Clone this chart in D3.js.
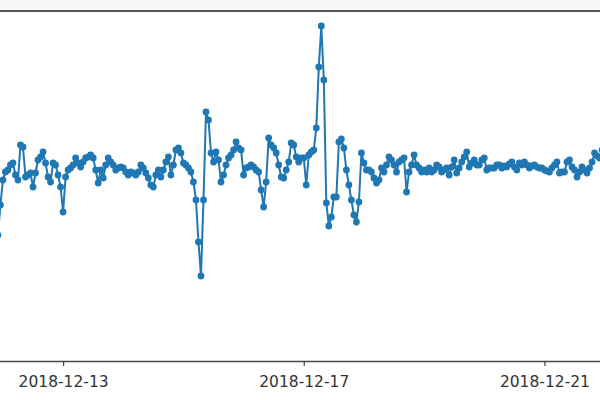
<!DOCTYPE html>
<html>
<head>
<meta charset="utf-8">
<script src="https://cdn.jsdelivr.net/npm/d3@7"></script>
<style>
  body { margin: 0; background: #fff; }
  .graphic svg { display: block; }
</style>
</head>
<body>
<div class="graphic"></div>
<script>
// hourly readings, first one at 2018-12-11 22:00
var startTime = new Date(2018, 11, 11, 22, 0);
var values = [
  126, 156, 181, 189, 191, 196, 198, 186, 181, 216, 214, 184, 186, 188, 174, 188,
  201, 204, 209, 198, 184, 179, 198, 196, 186, 174, 149, 184, 191, 193, 196, 203,
  198, 194, 199, 203, 204, 206, 203, 191, 178, 191, 183, 196, 203, 199, 196, 191,
  193, 194, 193, 189, 186, 189, 188, 186, 189, 196, 193, 188, 183, 176, 174, 186,
  191, 184, 191, 199, 204, 186, 196, 211, 213, 208, 198, 196, 193, 189, 179, 161,
  119, 85, 161, 249, 241, 208, 199, 209, 201, 179, 186, 196, 203, 206, 211, 219,
  213, 211, 186, 193, 194, 196, 194, 191, 189, 171, 154, 179, 223, 216, 213, 208,
  196, 184, 183, 191, 199, 218, 216, 204, 199, 203, 203, 176, 206, 209, 211, 233,
  294, 335, 281, 158, 135, 144, 164, 164, 219, 222, 213, 191, 176, 161, 146, 139,
  159, 208, 198, 191, 191, 189, 183, 178, 181, 193, 189, 196, 204, 201, 196, 189,
  199, 201, 203, 169, 189, 196, 206, 196, 193, 189, 191, 189, 193, 189, 191, 196,
  194, 189, 191, 193, 186, 194, 201, 188, 193, 199, 204, 209, 194, 198, 201, 196,
  196, 201, 203, 191, 193, 193, 193, 196, 196, 193, 195, 194, 197, 199, 194, 191,
  198, 196, 199, 196, 193, 195, 196, 194, 193, 193, 191, 190, 189, 193, 196, 199,
  188, 189, 189, 199, 201, 194, 191, 184, 189, 194, 191, 188, 193, 199, 208, 205,
  203, 211
];
var tickLabels = ["2018-12-13", "2018-12-17", "2018-12-21"];

var width = 600, height = 400;
var plotTop = 11, plotBottom = 361;

var parseDay = d3.timeParse("%Y-%m-%d");
var points = values.map((v, i) => ({ time: d3.timeHour.offset(startTime, i), value: v }));

var x = d3.scaleTime()
  .domain([new Date(2018, 11, 11, 22, 50), new Date(2018, 11, 21, 22, 10)])
  .range([0, width]);

var y = d3.scaleLinear()
  .domain([0, 350])
  .range([plotBottom, plotTop]);

var svg = d3.select(".graphic")
  .append("svg")
  .attr("width", width)
  .attr("height", height);

svg.append("rect")
  .attr("width", width)
  .attr("height", plotTop - 1)
  .attr("fill", "#f7f7f7");

svg.append("defs")
  .append("clipPath")
  .attr("id", "plotClip")
  .append("rect")
  .attr("x", 0)
  .attr("y", plotTop)
  .attr("width", width)
  .attr("height", plotBottom - plotTop);

var line = d3.line()
  .x(p => x(p.time))
  .y(p => y(p.value));

var series = svg.append("g").attr("clip-path", "url(#plotClip)");

series.append("path")
  .datum(points)
  .attr("d", line)
  .attr("fill", "none")
  .attr("stroke", "#1f77b4")
  .attr("stroke-width", 2)
  .attr("stroke-linejoin", "round");

series.selectAll("circle")
  .data(points)
  .join("circle")
  .attr("cx", p => x(p.time))
  .attr("cy", p => y(p.value))
  .attr("r", 3.4)
  .attr("fill", "#1f77b4");

// top spine
svg.append("line")
  .attr("x1", 0)
  .attr("x2", width)
  .attr("y1", plotTop)
  .attr("y2", plotTop)
  .attr("stroke", "#555")
  .attr("stroke-width", 1.8);

var xAxis = d3.axisBottom(x)
  .tickValues(tickLabels.map(parseDay))
  .tickFormat(d3.timeFormat("%Y-%m-%d"))
  .tickSize(5)
  .tickPadding(10);

var axisG = svg.append("g")
  .attr("transform", `translate(0,${plotBottom})`)
  .call(xAxis);

axisG.select(".domain")
  .attr("d", `M0,0.5H${width}`)
  .attr("stroke", "#444")
  .attr("stroke-width", 1.6);

axisG.selectAll(".tick line")
  .attr("stroke", "#444")
  .attr("stroke-width", 1.2);

axisG.selectAll(".tick text")
  .attr("fill", "#333")
  .style("font-family", "'DejaVu Sans', sans-serif")
  .style("font-size", "15.5px");
</script>
</body>
</html>
